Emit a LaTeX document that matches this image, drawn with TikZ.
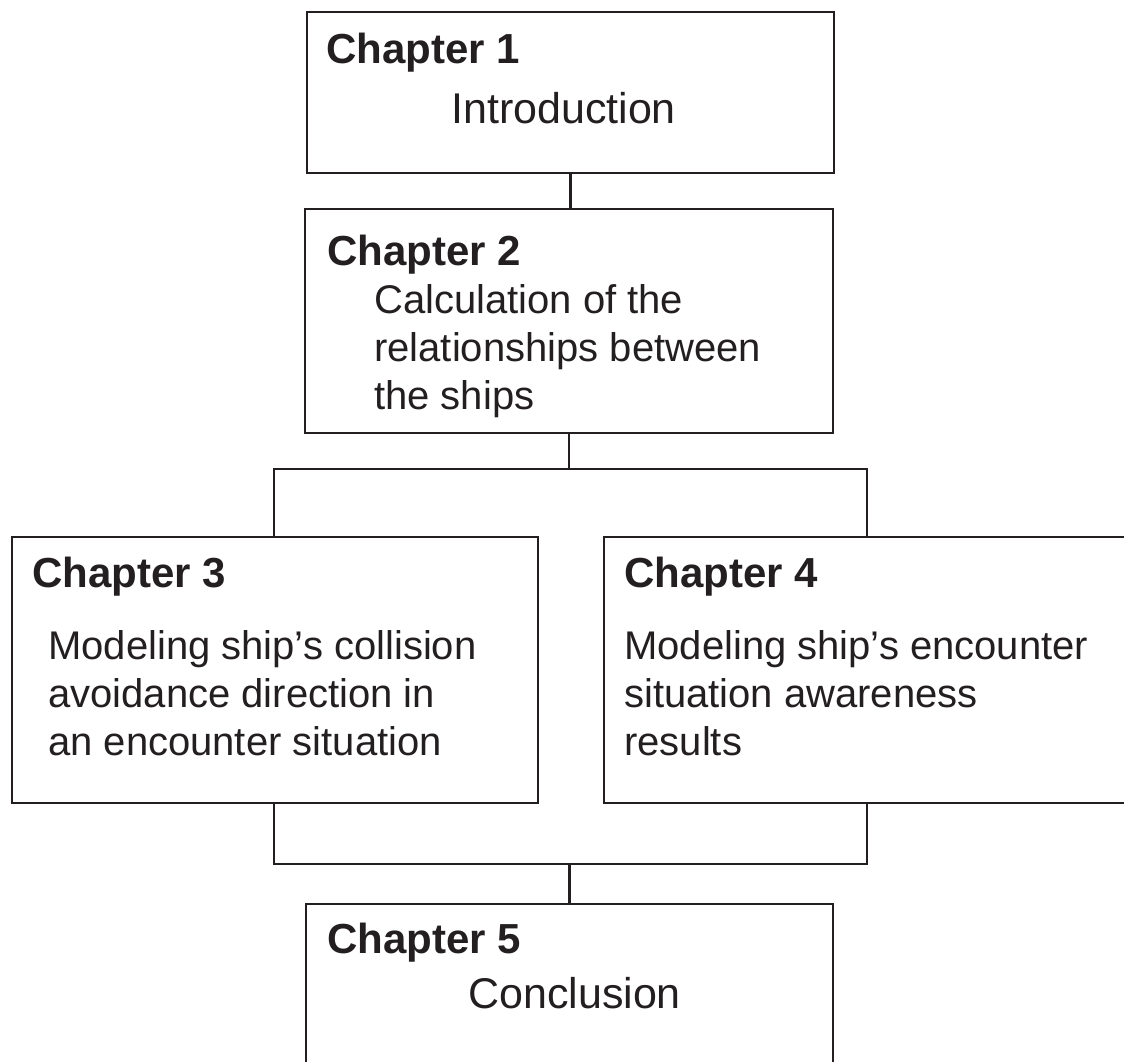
\documentclass[tikz,border=0pt]{standalone}
\usepackage{fontspec}
\setmainfont{Liberation Sans}
\definecolor{ink}{RGB}{35,31,32}
\begin{document}
\begin{tikzpicture}[x=1pt,y=-1pt,
  box/.style={draw=ink,line width=2.8pt,rectangle,inner sep=0pt,fill=none},
  wire/.style={draw=ink,line width=2.8pt},
  title/.style={anchor=base west,inner sep=0pt,text=ink,font=\fontsize{42}{48}\selectfont\bfseries},
  body/.style={anchor=base west,inner sep=0pt,text=ink,font=\fontsize{40}{48}\selectfont},
  big/.style={anchor=base west,inner sep=0pt,text=ink,font=\fontsize{43}{50}\selectfont}]
\useasboundingbox (0,0) rectangle (1124,1061);
\clip (0,0) rectangle (1124,1061);
% boxes
\node[box,minimum width=527pt,minimum height=161pt] (c1) at (570.5,92.5) {};
\node[box,minimum width=528pt,minimum height=224pt] (c2) at (569,321) {};
\node[box,minimum width=526pt,minimum height=266pt] (c3) at (275,670) {};
\node[box,minimum width=536pt,minimum height=266pt] (c4) at (872,670) {};
\node[box,minimum width=527pt,minimum height=200pt] (c5) at (569.5,1004) {};
% texts
\node[title] (t1) at (326,63) {Chapter 1};
\node[big] (b1) at (451,123) {Introduction};
\node[title] (t2) at (327,265) {Chapter 2};
\node[body] (b2a) at (374,313) {Calculation of the};
\node[body] (b2b) at (374,361) {relationships between};
\node[body] (b2c) at (374,409) {the ships};
\node[title] (t3) at (32,587) {Chapter 3};
\node[body] (b3a) at (48,659) {Modeling ship’s collision};
\node[body] (b3b) at (48,707) {avoidance direction in};
\node[body] (b3c) at (48,755) {an encounter situation};
\node[title] (t4) at (624,587) {Chapter 4};
\node[body] (b4a) at (624,659) {Modeling ship’s encounter};
\node[body] (b4b) at (624,707) {situation awareness};
\node[body] (b4c) at (624,755) {results};
\node[title] (t5) at (327,953) {Chapter 5};
\node[big] (b5) at (468,1008) {Conclusion};
% junction points
\coordinate (jL) at (274,469);
\coordinate (jR) at (867,469);
\coordinate (kL) at (274,864);
\coordinate (kR) at (867,864);
% connectors
\draw[wire] (c1.south) -- (c1.south |- c2.north);
\draw[wire] (c2.south) -- (c2.south |- jL);
\draw[wire] (jL |- c3.north) -- (jL) -- (jR) -- (jR |- c4.north);
\draw[wire] (kL |- c3.south) -- (kL) -- (kR) -- (kR |- c4.south);
\draw[wire] (c5.north |- kL) -- (c5.north);
\end{tikzpicture}
\end{document}
